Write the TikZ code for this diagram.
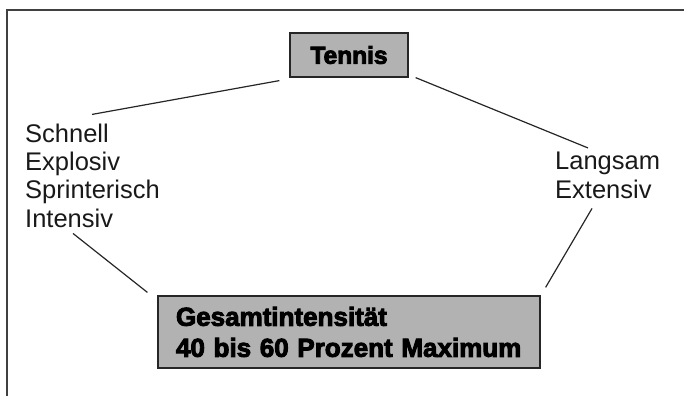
\documentclass[tikz,border=0pt]{standalone}
\usepackage{fontspec}
\setmainfont{Liberation Sans}[BoldFeatures={FakeBold=3.5}]
\begin{document}
\begin{tikzpicture}[x=1pt,y=-1pt,
  graybox/.style={draw=black!85, line width=1.2pt, fill=black!30, inner sep=0pt},
  plain/.style={inner sep=0pt, align=left, text=black!90},
  conn/.style={draw=black!85, line width=1.2pt}]
\useasboundingbox (0,0) rectangle (684,396);
\draw[line width=2pt, black!75] (7,396) -- (7,10.5) -- (684,10.5);
\node[graybox, minimum width=118pt, minimum height=44pt, font=\fontsize{24.5}{28}\selectfont\bfseries] (tennis) at (349,55) {Tennis};
\node[plain, anchor=base west, font=\fontsize{25.5}{28.3}\selectfont] (left) at (25,227) {Schnell\\Explosiv\\Sprinterisch\\Intensiv};
\node[plain, anchor=base west, font=\fontsize{25.5}{28.3}\selectfont] (right) at (555,198) {Langsam\\Extensiv};
\node[graybox, minimum width=382pt, minimum height=72pt, text width=346pt, align=left, font=\fontsize{26}{31}\selectfont\bfseries] (bottom) at (349,332) {Gesamtintensität\\40 bis 60 Prozent Maximum};
\draw[conn] ([shift={(-10,3)}]tennis.south west) -- ([shift={(67,-9)}]left.north west);
\draw[conn] ([shift={(7,0)}]tennis.south east) -- ([shift={(33,-4)}]right.north west);
\draw[conn] ([shift={(48,6)}]left.south west) -- ([shift={(-10,-3)}]bottom.north west);
\draw[conn] ([shift={(37,10)}]right.south west) -- ([shift={(5,-8)}]bottom.north east);
\end{tikzpicture}
\end{document}
